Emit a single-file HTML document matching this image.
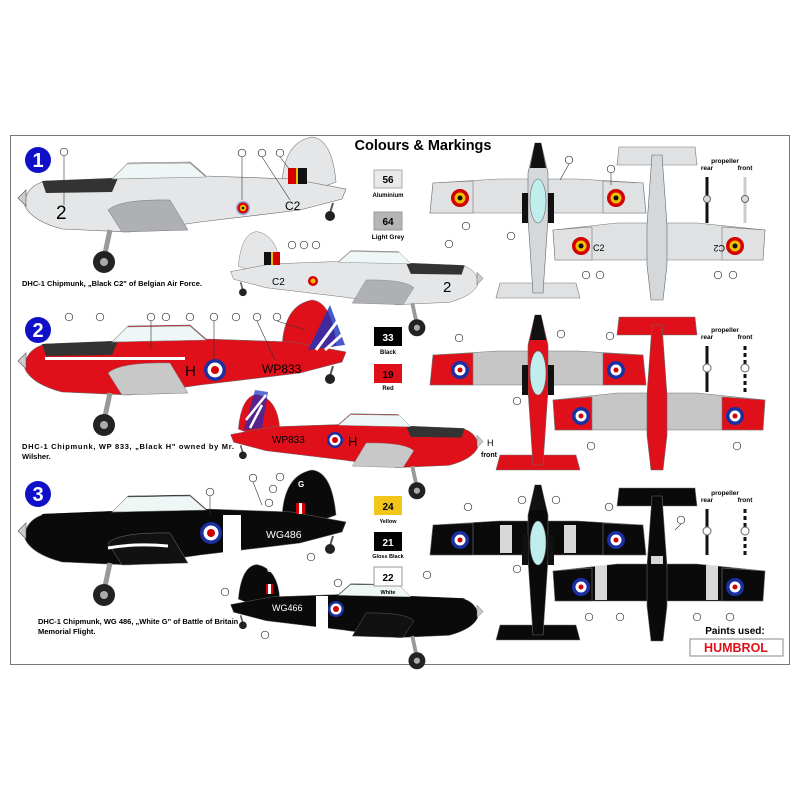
<!DOCTYPE html>
<html><head><meta charset="utf-8"><style>
html,body{margin:0;padding:0;background:#fff;width:800px;height:800px;overflow:hidden}
svg{display:block}
text{font-family:"Liberation Sans",sans-serif}
</style></head><body>
<svg width="800" height="800" viewBox="0 0 800 800" xmlns="http://www.w3.org/2000/svg">
<defs>
 <symbol id="side" overflow="visible">
  <path d="M282,184 Q284,142 312,137 Q332,139 336,182 L320,188 Z" style="fill:var(--fin)" stroke="#777" stroke-width="0.6"/>
  <path d="M25,200 Q28,186 45,181 L118,178 L128,163 L190,162 L206,176 L292,179 L346,189 L342,199 L300,210 L200,222 L130,232 L62,229 Q32,221 25,206 Z" style="fill:var(--body)" stroke="#666" stroke-width="0.6"/>
  <path d="M42,181 L118,178 L112,192 L46,193 Z" style="fill:var(--top)"/>
  <path d="M112,179 L127,164 L190,163 L206,177 Z" fill="#eef6f6" stroke="#888" stroke-width="0.6"/>
  <path d="M108,210 Q120,199 170,200 L188,230 L122,232 Z" style="fill:var(--wing)" stroke="#777" stroke-width="0.5"/>
  <path d="M26,190 L18,198 L26,206 Z" fill="#ccc" stroke="#555" stroke-width="0.6"/>
  <path d="M110,230 L104,258" stroke="#999" stroke-width="5"/>
  <circle cx="104" cy="262" r="11" fill="#222"/><circle cx="104" cy="262" r="4" fill="#aaa"/>
  <path d="M333,203 L330,213" stroke="#555" stroke-width="2"/>
  <circle cx="330" cy="216" r="5" fill="#222"/>
 </symbol>
 <symbol id="topA" overflow="visible">
  <path d="M-105,40 L-40,36 L40,36 L105,40 L108,70 L-108,70 Z" style="fill:var(--inner)" stroke="#777" stroke-width="0.6"/>
  <path d="M-105,40 L-65,38 L-65,70 L-108,70 Z M105,40 L65,38 L65,70 L108,70 Z" style="fill:var(--outer)" stroke="#777" stroke-width="0.6"/>
  <path d="M-38,140 L38,140 L42,155 L-42,155 Z" style="fill:var(--tail)" stroke="#777" stroke-width="0.6"/>
  <path d="M-3,0 L3,0 L10,30 L10,75 L5,150 L-5,150 L-10,75 L-10,30 Z" style="fill:var(--fus)" stroke="#666" stroke-width="0.6"/>
  <path d="M-3,0 L3,0 L8,25 L-8,25 Z" fill="#111"/>
  <path d="M-16,50 h6 v30 h-6 Z M10,50 h6 v30 h-6 Z" fill="#111"/>
  <ellipse cx="0" cy="58" rx="8" ry="22" fill="#bfeeed" stroke="#666" stroke-width="0.6"/>
  <circle cx="-78" cy="55" r="9" style="fill:var(--r1)"/><circle cx="-78" cy="55" r="5.5" style="fill:var(--r2)"/><circle cx="-78" cy="55" r="2.5" style="fill:var(--r3)"/>
  <circle cx="78" cy="55" r="9" style="fill:var(--r1)"/><circle cx="78" cy="55" r="5.5" style="fill:var(--r2)"/><circle cx="78" cy="55" r="2.5" style="fill:var(--r3)"/>
 </symbol>
 <symbol id="topB" overflow="visible">
  <path d="M-38,2 L38,2 L40,20 L-40,20 Z" style="fill:var(--tail)" stroke="#777" stroke-width="0.6"/>
  <path d="M-104,85 L-40,78 L40,78 L108,85 L106,115 L-102,115 Z" style="fill:var(--inner)" stroke="#777" stroke-width="0.6"/>
  <path d="M-104,85 L-65,82 L-65,115 L-102,115 Z M108,85 L65,82 L65,115 L106,115 Z" style="fill:var(--outer)" stroke="#777" stroke-width="0.6"/>
  <path d="M-5,10 L5,10 L10,80 L10,120 L6,155 L-6,155 L-10,120 L-10,80 Z" style="fill:var(--fus)" stroke="#666" stroke-width="0.6"/>
  <circle cx="-76" cy="101" r="9" style="fill:var(--r1)"/><circle cx="-76" cy="101" r="5.5" style="fill:var(--r2)"/><circle cx="-76" cy="101" r="2.5" style="fill:var(--r3)"/>
  <circle cx="78" cy="101" r="9" style="fill:var(--r1)"/><circle cx="78" cy="101" r="5.5" style="fill:var(--r2)"/><circle cx="78" cy="101" r="2.5" style="fill:var(--r3)"/>
 </symbol>
</defs>
<rect x="10.5" y="135.5" width="779" height="529" fill="#fff" stroke="#777" stroke-width="1"/>
<text x="423" y="150" font-size="14.5" font-weight="bold" text-anchor="middle">Colours &amp; Markings</text>

<g font-weight="bold" font-size="20" fill="#fff" text-anchor="middle">
 <circle cx="38" cy="160" r="13" fill="#1010c8"/><text x="38" y="167" font-family="Liberation Serif">1</text>
 <circle cx="38" cy="330" r="13" fill="#1010c8"/><text x="38" y="337" font-family="Liberation Serif">2</text>
 <circle cx="38" cy="494" r="13" fill="#1010c8"/><text x="38" y="501" font-family="Liberation Serif">3</text>
</g>

<!-- section 1 side -->
<use href="#side" style="--fin:#e4e6e8;--body:#e4e6e8;--top:#333;--wing:#aeb0b3"/>
<rect x="288" y="168" width="8" height="16" fill="#d40000"/><rect x="296" y="168" width="2" height="16" fill="#f0c000"/><rect x="298" y="168" width="9" height="16" fill="#111"/>
<circle cx="243" cy="208" r="7" fill="#8fa6d8"/><circle cx="243" cy="208" r="5.5" fill="#d40000"/><circle cx="243" cy="208" r="3.2" fill="#f0c000"/><circle cx="243" cy="208" r="1.3" fill="#111"/>
<text x="285" y="210" font-size="12">C2</text>
<text x="56" y="219" font-size="19">2</text>
<g transform="translate(497,126) scale(-0.77,0.77)"><use href="#side" style="--fin:#e4e6e8;--body:#e4e6e8;--top:#333;--wing:#aeb0b3"/></g>
<rect x="264" y="252" width="7" height="13" fill="#111"/><rect x="271" y="252" width="2" height="13" fill="#f0c000"/><rect x="273" y="252" width="7" height="13" fill="#d40000"/>
<circle cx="313" cy="281" r="5" fill="#d40000"/><circle cx="313" cy="281" r="2.5" fill="#f0c000"/>
<text x="272" y="285" font-size="10">C2</text>
<text x="443" y="292" font-size="15">2</text>
<text x="22" y="286" font-size="7.5" font-weight="bold">DHC-1 Chipmunk, „Black C2" of Belgian Air Force.</text>

<!-- section 2 side -->
<g transform="translate(0,163)"><use href="#side" style="--fin:#e0101a;--body:#e0101a;--top:#333;--wing:#c8c8c8"/></g>
<path d="M308,350 L330,305 L345,345 Z" fill="#1a2fbf" opacity="0.8"/><path d="M316,350 L342,315 M325,350 L345,332" stroke="#fff" stroke-width="3"/>
<rect x="45" y="357" width="140" height="3" fill="#fff"/>
<circle cx="215" cy="370" r="11" fill="#1a2fa0"/><circle cx="215" cy="370" r="7.5" fill="#fff"/><circle cx="215" cy="370" r="4" fill="#d40000"/>
<text x="185" y="376" font-size="15">H</text>
<text x="262" y="373" font-size="12">WP833</text>
<g transform="translate(497,289) scale(-0.77,0.77)"><use href="#side" style="--fin:#e0101a;--body:#e0101a;--top:#333;--wing:#c8c8c8"/></g>
<path d="M244,430 L255,390 L268,392 L262,428 Z" fill="#1a2fbf" opacity="0.7"/><path d="M246,420 L266,395 M250,428 L262,405" stroke="#fff" stroke-width="2.5"/>
<circle cx="335" cy="440" r="8" fill="#1a2fa0"/><circle cx="335" cy="440" r="5.5" fill="#fff"/><circle cx="335" cy="440" r="3" fill="#d40000"/>
<text x="348" y="446" font-size="13">H</text>
<text x="272" y="443" font-size="10">WP833</text>
<text x="22" y="449" font-size="7.5" font-weight="bold" textLength="212">DHC-1 Chipmunk, WP 833, „Black H" owned by Mr.</text>
<text x="22" y="459" font-size="7.5" font-weight="bold">Wilsher.</text>
<text x="487" y="446" font-size="9">H</text><text x="481" y="457" font-size="7" font-weight="bold">front</text>

<!-- section 3 side -->
<g transform="translate(0,333)"><use href="#side" style="--fin:#0a0a0a;--body:#0a0a0a;--top:#0a0a0a;--wing:#111"/></g>
<rect x="223" y="515" width="18" height="45" fill="#fff"/>
<circle cx="211" cy="533" r="11" fill="#1a2fa0"/><circle cx="211" cy="533" r="7.5" fill="#fff"/><circle cx="211" cy="533" r="4" fill="#d40000"/>
<path d="M108,548 Q135,543 168,546" stroke="#fff" stroke-width="3" fill="none"/>
<text x="266" y="538" font-size="10.5" fill="#fff">WG486</text>
<text x="298" y="487" font-size="8" fill="#fff" font-weight="bold">G</text>
<rect x="296" y="503" width="9" height="11" fill="#d40000"/><rect x="299" y="503" width="3" height="11" fill="#fff"/>
<g transform="translate(497,459) scale(-0.77,0.77)"><use href="#side" style="--fin:#0a0a0a;--body:#0a0a0a;--top:#0a0a0a;--wing:#111"/></g>
<rect x="316" y="596" width="12" height="34" fill="#fff"/>
<circle cx="336" cy="609" r="8" fill="#1a2fa0"/><circle cx="336" cy="609" r="5.5" fill="#fff"/><circle cx="336" cy="609" r="3" fill="#d40000"/>
<text x="272" y="611" font-size="9" fill="#fff">WG466</text>
<text x="267" y="572" font-size="7" fill="#fff" font-weight="bold">G</text>
<rect x="266" y="584" width="7" height="10" fill="#d40000"/><rect x="268" y="584" width="3" height="10" fill="#fff"/>
<text x="38" y="624" font-size="7.5" font-weight="bold">DHC-1 Chipmunk, WG 486, „White G" of Battle of Britain</text>
<text x="38" y="634" font-size="7.5" font-weight="bold">Memorial Flight.</text>

<g font-weight="bold" text-anchor="middle">
 <rect x="374" y="170" width="28" height="18" fill="#e8e9ea" stroke="#aaa"/><text x="388" y="183" font-size="10">56</text><text x="388" y="197" font-size="6">Aluminium</text>
 <rect x="374" y="212" width="28" height="18" fill="#b5b5b5" stroke="#999"/><text x="388" y="225" font-size="10">64</text><text x="388" y="239" font-size="6.5">Light Grey</text>
 <rect x="374" y="327" width="28" height="19" fill="#000"/><text x="388" y="341" font-size="10" fill="#fff">33</text><text x="388" y="354" font-size="6">Black</text>
 <rect x="374" y="364" width="28" height="19" fill="#e0101a"/><text x="388" y="378" font-size="10">19</text><text x="388" y="390" font-size="6">Red</text>
 <rect x="374" y="496" width="28" height="19" fill="#f3c519"/><text x="388" y="510" font-size="10">24</text><text x="388" y="523" font-size="5.5">Yellow</text>
 <rect x="374" y="532" width="28" height="19" fill="#000"/><text x="388" y="546" font-size="10" fill="#fff">21</text><text x="388" y="558" font-size="5.5">Gloss Black</text>
 <rect x="374" y="567" width="28" height="19" fill="#fff" stroke="#999"/><text x="388" y="581" font-size="10">22</text><text x="388" y="594" font-size="5.5">White</text>
</g>

<g transform="translate(538,143)"><use href="#topA" style="--inner:#dfe1e3;--outer:#dfe1e3;--tail:#dfe1e3;--fus:#d5d8da;--r1:#d40000;--r2:#f0c000;--r3:#111"/></g>
<g transform="translate(657,145)"><use href="#topB" style="--inner:#dfe1e3;--outer:#dfe1e3;--tail:#dfe1e3;--fus:#d5d8da;--r1:#d40000;--r2:#f0c000;--r3:#111"/></g>
<text x="593" y="251" font-size="9">C2</text><text x="711" y="251" font-size="9" transform="rotate(180 718 248)">C2</text>
<g transform="translate(538,315)"><use href="#topA" style="--inner:#c6c6c6;--outer:#e0101a;--tail:#e0101a;--fus:#e0101a;--r1:#1a2fa0;--r2:#fff;--r3:#d40000"/></g>
<g transform="translate(657,315)"><use href="#topB" style="--inner:#c6c6c6;--outer:#e0101a;--tail:#e0101a;--fus:#e0101a;--r1:#1a2fa0;--r2:#fff;--r3:#d40000"/></g>
<g transform="translate(538,485)"><use href="#topA" style="--inner:#0a0a0a;--outer:#0a0a0a;--tail:#0a0a0a;--fus:#0a0a0a;--r1:#1a2fa0;--r2:#fff;--r3:#d40000"/></g>
<g transform="translate(657,486)"><use href="#topB" style="--inner:#0a0a0a;--outer:#0a0a0a;--tail:#0a0a0a;--fus:#0a0a0a;--r1:#1a2fa0;--r2:#fff;--r3:#d40000"/></g>
<path d="M500,525 h12 v28 h-12 Z M564,525 h12 v28 h-12 Z M595,565 h12 v35 h-12 Z M706,565 h12 v35 h-12 Z M651,556 h12 v8 h-12 Z" fill="#eee" opacity="0.9"/>

<g font-size="6.5" font-weight="bold" text-anchor="middle">
 <g>
  <text x="725" y="163">propeller</text><text x="707" y="170">rear</text><text x="745" y="170">front</text>
  <path d="M707,177 V223" stroke="#111" stroke-width="3"/><circle cx="707" cy="199" r="3.5" fill="#ddd" stroke="#666"/>
  <path d="M745,177 V223" stroke="#ccc" stroke-width="3"/><circle cx="745" cy="199" r="3.5" fill="#ddd" stroke="#666"/>
 </g>
 <g transform="translate(0,169)">
  <text x="725" y="163">propeller</text><text x="707" y="170">rear</text><text x="745" y="170">front</text>
  <path d="M707,177 V223" stroke="#111" stroke-width="3"/><circle cx="707" cy="199" r="4" fill="#fff" stroke="#666"/>
  <path d="M745,177 V223" stroke="#111" stroke-width="3" stroke-dasharray="4 3"/><circle cx="745" cy="199" r="4" fill="#fff" stroke="#666"/>
 </g>
 <g transform="translate(0,332)">
  <text x="725" y="163">propeller</text><text x="707" y="170">rear</text><text x="745" y="170">front</text>
  <path d="M707,177 V223" stroke="#111" stroke-width="3"/><circle cx="707" cy="199" r="4" fill="#fff" stroke="#666"/>
  <path d="M745,177 V223" stroke="#111" stroke-width="3" stroke-dasharray="4 3"/><circle cx="745" cy="199" r="4" fill="#fff" stroke="#666"/>
 </g>
</g>

<g fill="#fff" stroke="#333" stroke-width="0.7">
 <circle cx="64" cy="152" r="3.8"/><circle cx="242" cy="153" r="3.8"/><circle cx="262" cy="153" r="3.8"/><circle cx="280" cy="153" r="3.8"/>
 <circle cx="292" cy="245" r="3.8"/><circle cx="304" cy="245" r="3.8"/><circle cx="316" cy="245" r="3.8"/><circle cx="449" cy="244" r="3.8"/>
 <circle cx="569" cy="160" r="3.8"/><circle cx="611" cy="169" r="3.8"/><circle cx="466" cy="226" r="3.8"/><circle cx="511" cy="236" r="3.8"/>
 <circle cx="586" cy="275" r="3.8"/><circle cx="600" cy="275" r="3.8"/><circle cx="718" cy="275" r="3.8"/><circle cx="733" cy="275" r="3.8"/>
 <circle cx="69" cy="317" r="3.8"/><circle cx="100" cy="317" r="3.8"/><circle cx="151" cy="317" r="3.8"/><circle cx="166" cy="317" r="3.8"/><circle cx="190" cy="317" r="3.8"/><circle cx="214" cy="317" r="3.8"/><circle cx="236" cy="317" r="3.8"/><circle cx="257" cy="317" r="3.8"/><circle cx="277" cy="317" r="3.8"/>
 <circle cx="459" cy="338" r="3.8"/><circle cx="561" cy="334" r="3.8"/><circle cx="610" cy="336" r="3.8"/><circle cx="517" cy="401" r="3.8"/><circle cx="591" cy="446" r="3.8"/><circle cx="737" cy="446" r="3.8"/>
 <circle cx="210" cy="492" r="3.8"/><circle cx="253" cy="478" r="3.8"/><circle cx="280" cy="477" r="3.8"/><circle cx="273" cy="489" r="3.8"/><circle cx="269" cy="503" r="3.8"/><circle cx="311" cy="557" r="3.8"/>
 <circle cx="468" cy="507" r="3.8"/><circle cx="522" cy="500" r="3.8"/><circle cx="556" cy="500" r="3.8"/><circle cx="609" cy="507" r="3.8"/><circle cx="681" cy="520" r="3.8"/><circle cx="517" cy="569" r="3.8"/><circle cx="427" cy="575" r="3.8"/>
 <circle cx="589" cy="617" r="3.8"/><circle cx="620" cy="617" r="3.8"/><circle cx="697" cy="617" r="3.8"/><circle cx="730" cy="617" r="3.8"/>
 <circle cx="265" cy="635" r="3.8"/><circle cx="225" cy="592" r="3.8"/><circle cx="338" cy="583" r="3.8"/>
</g>
<g stroke="#333" stroke-width="0.6" fill="none">
 <path d="M64,156 V205 M242,157 V200 M262,157 L290,200 M280,157 L290,170 M569,164 L560,180 M611,173 V185"/>
 <path d="M151,321 V350 M214,321 V360 M257,321 L275,360 M277,321 L305,330"/>
 <path d="M210,496 V515 M253,482 L262,505 M681,524 L675,530"/>
</g>

<text x="735" y="634" font-size="10" font-weight="bold" text-anchor="middle">Paints used:</text>
<rect x="690" y="639" width="93" height="17" fill="#fff" stroke="#888"/>
<text x="736" y="652" font-family="Liberation Serif" font-size="12.5" font-weight="bold" fill="#e0101a" text-anchor="middle">HUMBROL</text>
</svg>
</body></html>
